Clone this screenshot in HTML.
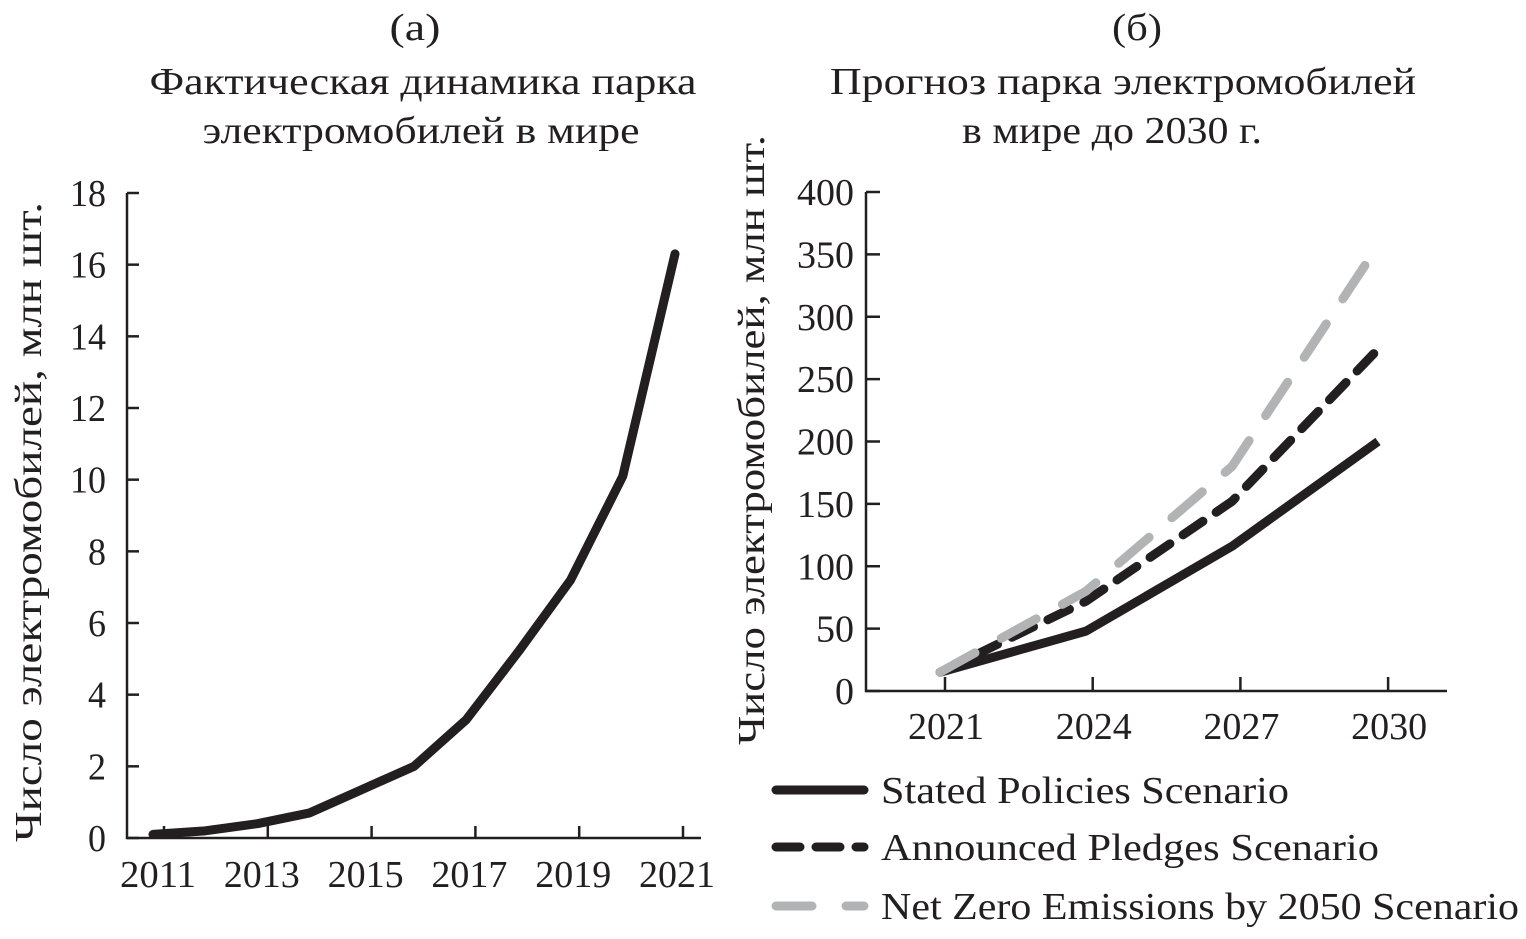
<!DOCTYPE html>
<html><head><meta charset="utf-8"><style>
body{margin:0;background:#fff}
svg text{font-family:"Liberation Serif",serif;fill:#231f20}
</style></head><body>
<svg width="1526" height="934" viewBox="0 0 1526 934" xmlns="http://www.w3.org/2000/svg">
<g id="left"></g>
<g id="right"></g>
</svg>
<script>
const yearsA=["2011","2012","2013","2014","2015","2016","2017","2018","2019","2020","2021"];
const valuesA=[0.1,0.2,0.4,0.7,1.35,2.0,3.3,5.2,7.2,10.1,16.3];
const yTicksA=[0,2,4,6,8,10,12,14,16,18];
const xLabelsA=["2011","2013","2015","2017","2019","2021"];
const yearsB=["2021","2024","2027","2030"];
const sps=[15,48,116,200];
const aps=[15,72,152,274];
const nze=[15,80,180,357];
const yTicksB=[0,50,100,150,200,250,300,350,400];
const NS="http://www.w3.org/2000/svg";
function mk(p,t,a,txt){const e=document.createElementNS(NS,t);for(const k in a)e.setAttribute(k,a[k]);if(txt!==undefined)e.textContent=txt;p.appendChild(e);return e;}
function tx(p,x,y,anchor,len,s,extra){const a={x:x,y:y,'font-size':38,'text-anchor':anchor,textLength:len,lengthAdjust:'spacingAndGlyphs'};if(extra)Object.assign(a,extra);return mk(p,'text',a,s);}
const L=document.getElementById('left'),R=document.getElementById('right');
let t;
t=tx(L,415,40,'middle',51,'(а)');
t=tx(L,423,94,'middle',547,'Фактическая динамика парка');
t=tx(L,421,143,'middle',437,'электромобилей в мире');
t=tx(R,1137,40,'middle',50,'(б)');
t=tx(R,1123,94,'middle',586,'Прогноз парка электромобилей');
t=tx(R,1112,143,'middle',300,'в мире до 2030 г.');
// left chart
const xA=i=>153+52.2*i, yA=v=>838-v*(645/18);
let a;
a=mk(L,'path',{d:'M127,193 V838 H701',stroke:'#231f20','stroke-width':2.5,fill:'none'});
yTicksA.forEach(v=>{mk(L,'line',{x1:127,x2:139,y1:yA(v),y2:yA(v),stroke:'#231f20','stroke-width':2.5});
 const e=tx(L,106,yA(v)+13,'end',String(v).length*18,String(v));});
xLabelsA.forEach((s,k)=>{const x=164+103.8*k;mk(L,'line',{x1:x,x2:x,y1:826,y2:838,stroke:'#231f20','stroke-width':2.5});
 const e=tx(L,x-6,887,'middle',76,s);});
a=mk(L,'polyline',{points:valuesA.map((v,i)=>xA(i)+','+yA(v)).join(' '),fill:'none',stroke:'#231f20','stroke-width':9,'stroke-linejoin':'round','stroke-linecap':'round'});
t=tx(L,0,0,'middle',640,'Число электромобилей, млн шт.',{transform:'translate(41,522) rotate(-90)'});
// right chart
const xB=i=>940+146*i, yB=v=>691-v*(499/400);
a=mk(R,'path',{d:'M866,192 V691 H1447',stroke:'#231f20','stroke-width':2.5,fill:'none'});
yTicksB.forEach(v=>{mk(R,'line',{x1:866,x2:880,y1:yB(v),y2:yB(v),stroke:'#231f20','stroke-width':2.5});
 const e=tx(R,854,yB(v)+13,'end',String(v).length*19,String(v));});
yearsB.forEach((s,k)=>{const x=945+147.7*k;mk(R,'line',{x1:x,x2:x,y1:677,y2:691,stroke:'#231f20','stroke-width':2.5});
 const e=tx(R,x+1,739,'middle',76,s);});
const pts=arr=>arr.map((v,i)=>xB(i)+','+yB(v)).join(' ');
a=mk(R,'polyline',{points:pts(sps),fill:'none',stroke:'#231f20','stroke-width':9,'stroke-linejoin':'round'});
a=mk(R,'polyline',{points:pts(aps),fill:'none',stroke:'#231f20','stroke-width':9,'stroke-dasharray':'24 16','stroke-linecap':'round'});
a=mk(R,'polyline',{points:pts(nze),fill:'none',stroke:'#b1b3b5','stroke-width':9,'stroke-dasharray':'40 30','stroke-linecap':'round'});
t=tx(R,0,0,'middle',610,'Число электромобилей, млн шт.',{transform:'translate(764,440) rotate(-90)'});
// legend
const leg=[['Stated Policies Scenario','#231f20','none',790,408],['Announced Pledges Scenario','#231f20','24 16',847,498],['Net Zero Emissions by 2050 Scenario','#b1b3b5','36 34',906,638]];
leg.forEach(l=>{const g=mk(R,'g',{});
 mk(g,'line',{x1:776,x2:864,y1:l[3],y2:l[3],stroke:l[1],'stroke-width':9,'stroke-dasharray':l[2],'stroke-linecap':'round'});
 tx(g,881,l[3]+13,'start',l[4],l[0]);});
</script>
</body></html>
